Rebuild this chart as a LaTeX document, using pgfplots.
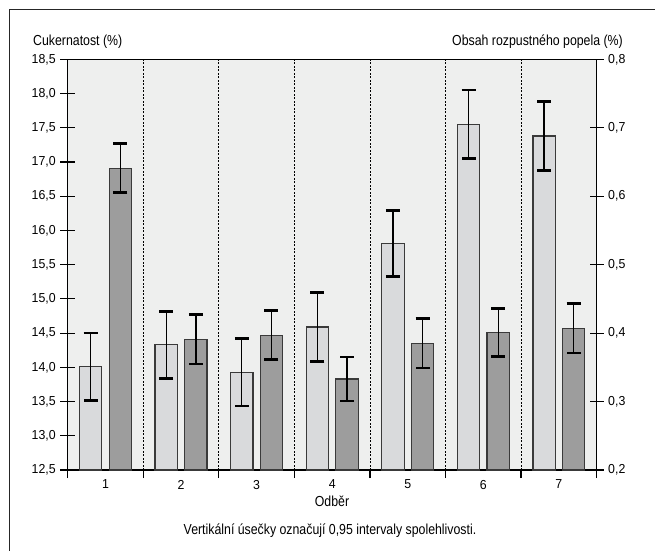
\documentclass[border=0pt]{standalone}
\usepackage{pgfplots}
\pgfplotsset{compat=1.18}
\usepackage{pgfplotstable}
\usepackage{fontspec}
\setmainfont{Liberation Sans}[FakeStretch=0.85]
\newfontfamily\tickfont{Liberation Sans}[FakeStretch=0.95]

\definecolor{bgc}{RGB}{238,239,238}
\definecolor{lightbar}{RGB}{217,218,220}
\definecolor{darkbar}{RGB}{157,157,157}
\definecolor{edge}{RGB}{58,58,58}

% sample, mean, half-width of the 0.95 confidence interval
\pgfplotstableread{
x  y      e
1  14.01  0.49
2  14.33  0.49
3  13.93  0.495
4  14.59  0.50
5  15.81  0.485
6  17.55  0.50
7  17.38  0.50
}\sugar

\pgfplotstableread{
x  y      e
1  0.641  0.036
2  0.391  0.036
3  0.397  0.036
4  0.333  0.032
5  0.385  0.036
6  0.401  0.035
7  0.407  0.036
}\ash

\newcommand{\lbl}{\fontsize{14.5bp}{17bp}\selectfont}
\newcommand{\tlbl}{\tickfont\fontsize{13bp}{15bp}\selectfont}

\pgfplotsset{
  common/.style={
    at={(67.7bp,-470bp)}, anchor=south west,
    scale only axis, width=529bp, height=410.7bp,
    xmin=0.5, xmax=7.5,
    tick align=center,
    tick label style={font=\tlbl},
    /pgf/number format/.cd, assume math mode=true, use comma, fixed, fixed zerofill, precision=1,
  },
  errs/.style={
    error bars/.cd, y dir=both, y explicit,
    error bar style={line width=1.3bp, black},
    error mark options={rotate=90, line width=2.7bp, mark size=7bp, black},
  },
}

\begin{document}
\begin{tikzpicture}
\useasboundingbox (0,0) rectangle (655bp,-551bp);
\draw[line width=1bp, black!85] (9bp,-551bp) -- (9bp,-9bp) -- (655bp,-9bp);

% sugar content, left axis
\begin{axis}[
  common,
  ymin=12.5, ymax=18.5,
  axis background/.style={fill=bgc},
  axis line style={line width=1.3bp, black},
  ytick={12.5,13,13.5,14,14.5,15,15.5,16,16.5,17,17.5,18,18.5},
  ytick pos=left,
  major tick length=15bp,
  y tick style={line width=1.2bp, black},
  xtick={1,2,3,4,5,6,7},
  xticklabels={1,2,3,4,5,6,7},
  xtick pos=bottom,
  major x tick style={draw=none},
  minor xtick={0.5,1.5,2.5,3.5,4.5,5.5,6.5,7.5},
  minor tick length=8bp,
  minor x tick style={yshift=-4bp, line width=1.3bp, black},
  xminorgrids=true,
  minor grid style={black, line width=0.8bp, dash pattern=on 2bp off 1.5bp},
  x tick label style={yshift=1bp},
  y tick label style={xshift=-1bp},
]
% light bars sit left of the sample centre
\addplot[ybar, bar width=22.3bp, bar shift=0pt, fill=lightbar, draw=edge,
  line width=1.2bp, errs] table[x expr=\thisrow{x}-0.196, y=y, y error=e] {\sugar};
\end{axis}

% soluble ash content, right axis
\begin{axis}[
  common,
  ymin=0.2, ymax=0.8,
  axis y line*=right, axis x line=none,
  axis line style={line width=1.3bp, black},
  ytick={0.2,0.3,0.4,0.5,0.6,0.7,0.8},
  major tick length=14bp,
  y tick style={line width=1.2bp, black},
  y tick label style={xshift=1bp},
]
% dark bars sit right of the sample centre
\addplot[ybar, bar width=22.3bp, bar shift=0pt, fill=darkbar, draw=edge,
  line width=1.2bp, errs] table[x expr=\thisrow{x}+0.196, y=y, y error=e] {\ash};
\end{axis}

\node[anchor=base west, inner sep=0pt, font=\lbl] at (33bp,-45bp) {Cukernatost (\%)};
\node[anchor=base east, inner sep=0pt, font=\lbl] at (623bp,-45bp) {Obsah rozpustného popela (\%)};
\node[anchor=base, inner sep=0pt, font=\lbl] at (332bp,-506.7bp) {Odběr};
\node[anchor=base, inner sep=0pt, font=\lbl] at (330bp,-534bp) {Vertikální úsečky označují 0,95 intervaly spolehlivosti.};
\end{tikzpicture}
\end{document}
